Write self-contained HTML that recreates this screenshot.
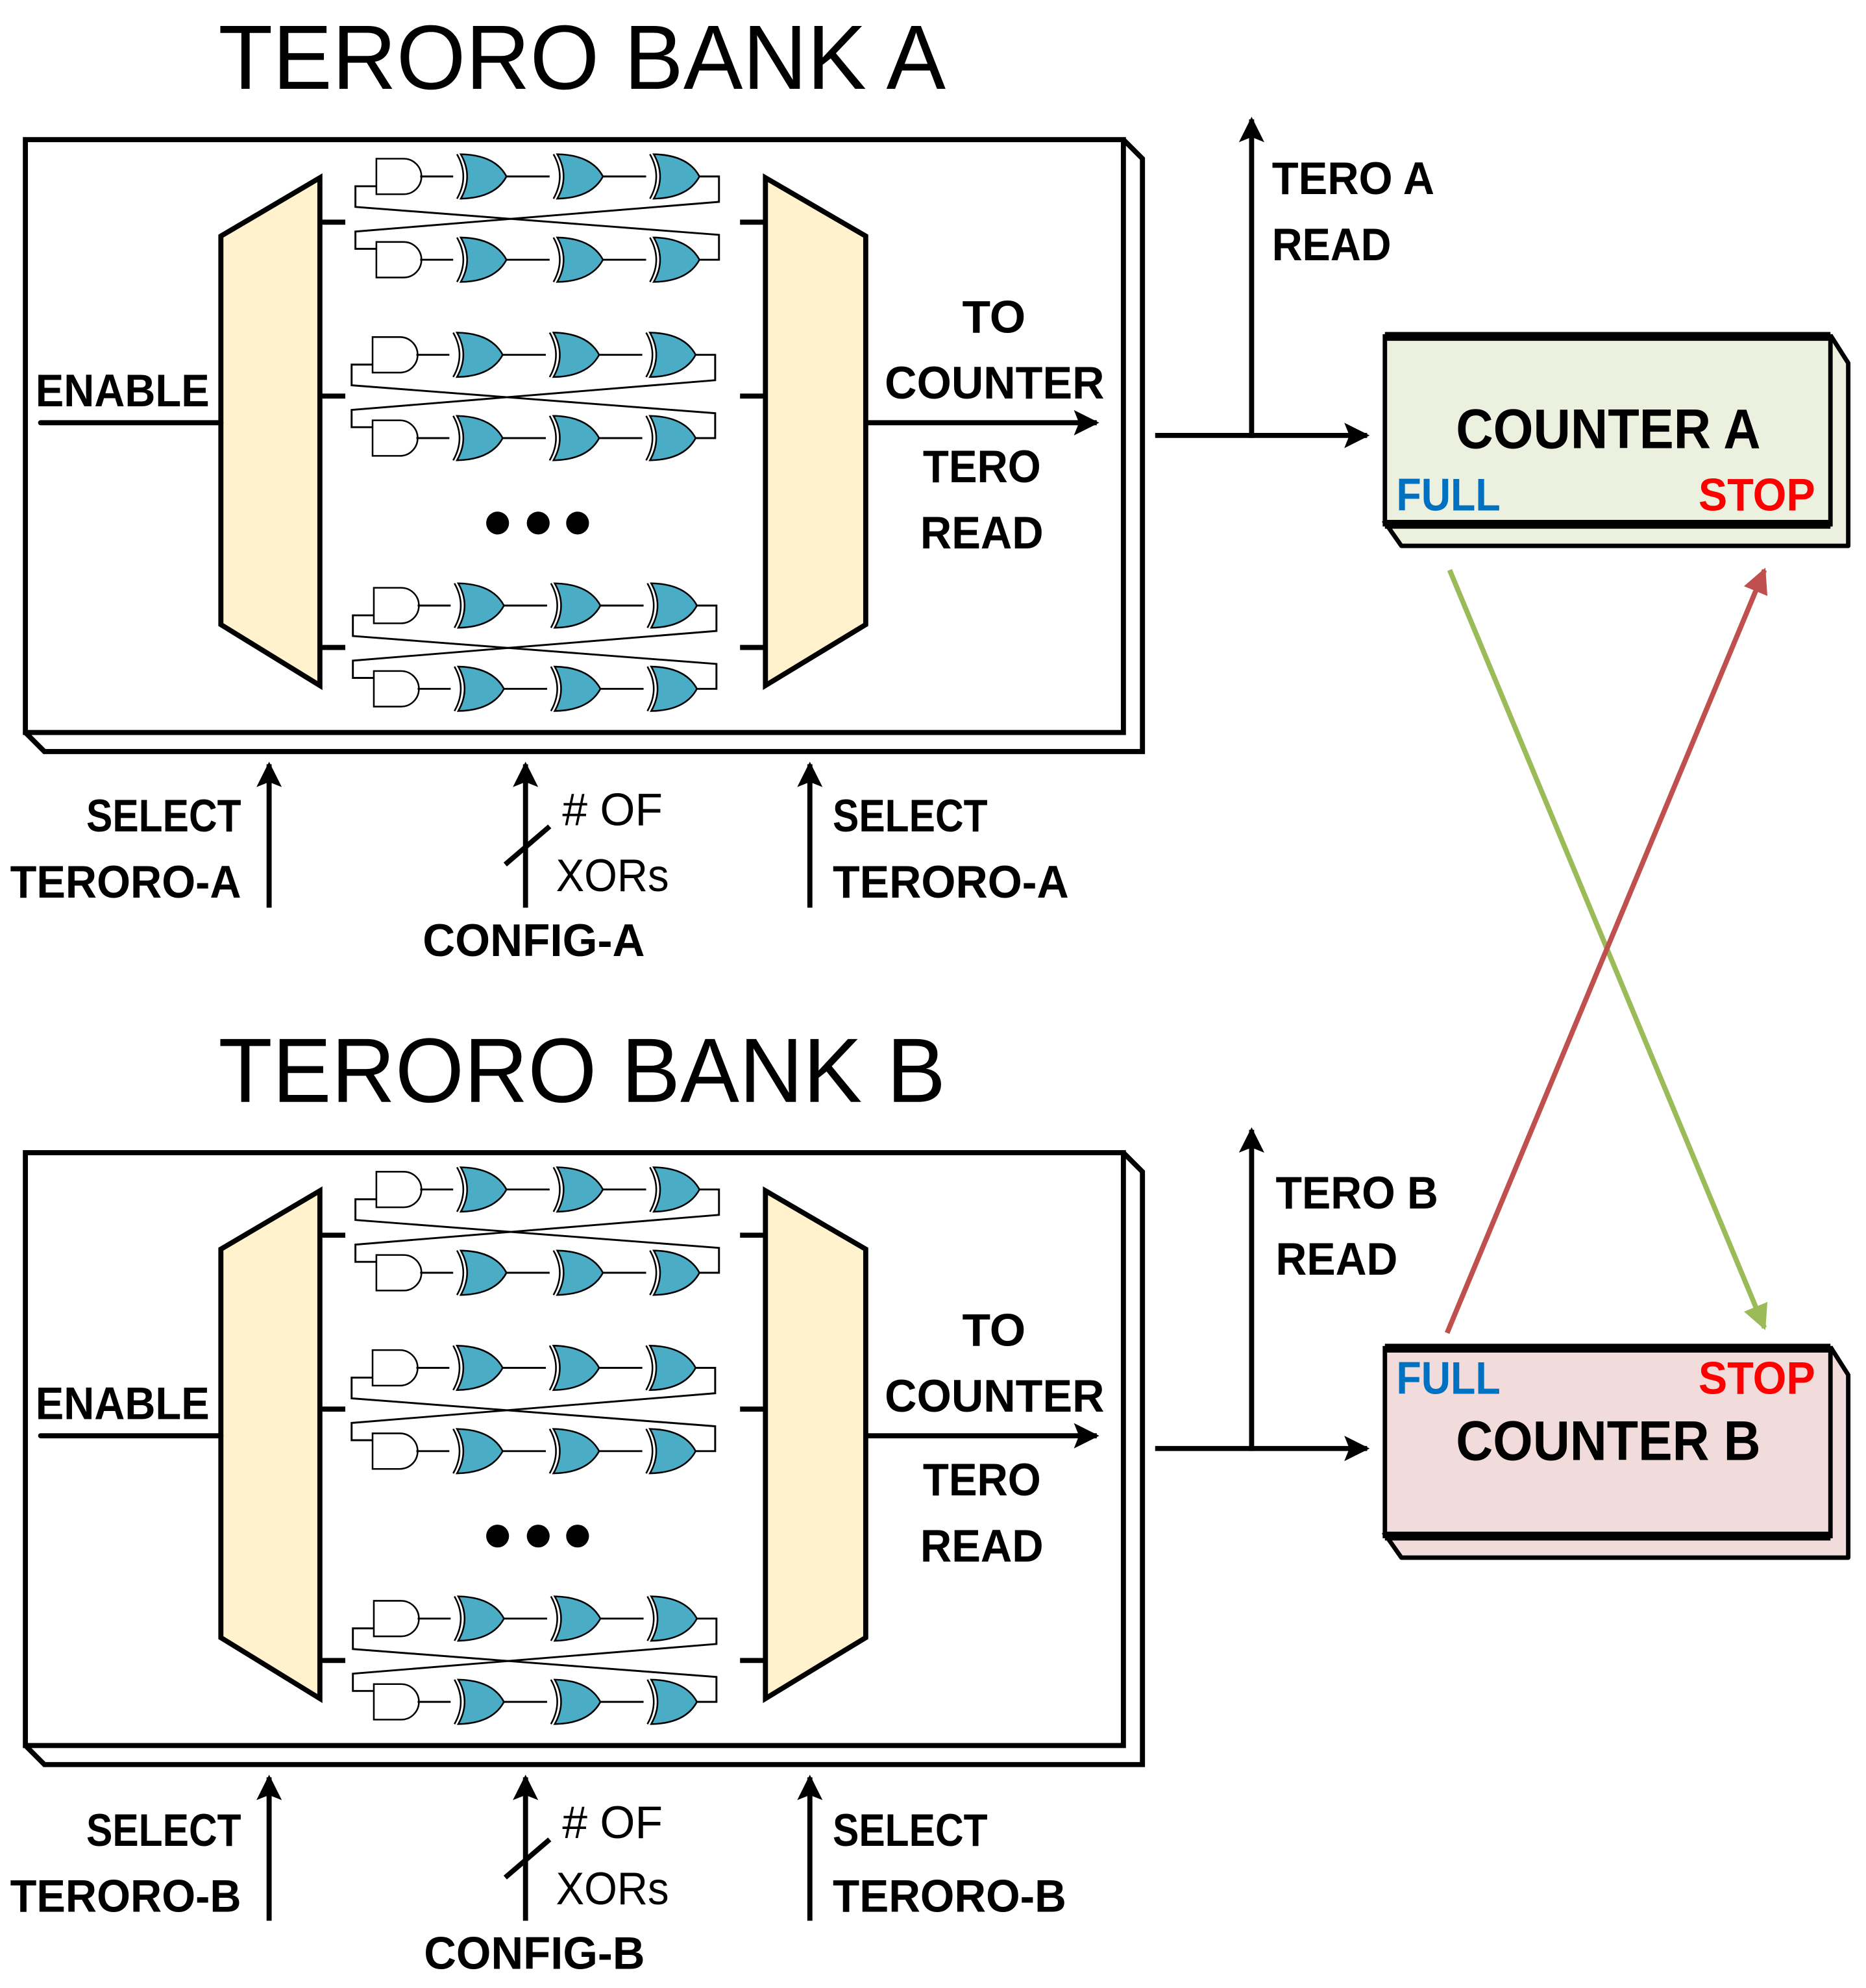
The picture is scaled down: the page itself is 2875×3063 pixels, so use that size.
<!DOCTYPE html>
<html><head><meta charset="utf-8"><style>
html,body{margin:0;padding:0;background:#fff}
svg{display:block}
text{font-family:"Liberation Sans",sans-serif}
.b{font-weight:bold}
</style></head><body>
<svg width="2875" height="3063" viewBox="0 0 1470 1566" preserveAspectRatio="none" xmlns="http://www.w3.org/2000/svg">
<defs>
<marker id="ah" viewBox="0 0 10 10" refX="9" refY="5" markerWidth="5" markerHeight="5" orient="auto" markerUnits="strokeWidth"><path d="M0,0 L10,5 L0,10 L2,5 Z" fill="#000"/></marker>
<marker id="ag" viewBox="0 0 10 10" refX="9" refY="5" markerWidth="5" markerHeight="5" orient="auto" markerUnits="strokeWidth"><path d="M0,0 L10,5 L0,10 Z" fill="#9bbb59"/></marker>
<marker id="ar" viewBox="0 0 10 10" refX="9" refY="5" markerWidth="5" markerHeight="5" orient="auto" markerUnits="strokeWidth"><path d="M0,0 L10,5 L0,10 Z" fill="#c0504d"/></marker>
<g id="row">
 <path d="M296.5,-14 H318 A14,14 0 0 1 318,14 H296.5 Z" fill="#fff" stroke="#000" stroke-width="1.3"/>
 <path d="M331,0 H357 M398,0 H433 M474,0 H509" stroke="#000" stroke-width="1.5" fill="none"/>
 <g id="xor">
  <path d="M360,-17.5 Q370,0 360,17.5" fill="none" stroke="#000" stroke-width="1.3"/>
  <path d="M363,-17.5 Q373,0 363,17.5 Q390,17 399,0 Q390,-17 363,-17.5 Z" fill="#4bacc6" stroke="#000" stroke-width="1.3"/>
 </g>
 <use href="#xor" x="76"/>
 <use href="#xor" x="152"/>
</g>
<g id="pair">
 <use href="#row"/>
 <use href="#row" y="65.6"/>
 <path d="M551,0 H566.4 V20 L280,43.4 V57 H296.5" fill="none" stroke="#000" stroke-width="1.5"/>
 <path d="M296.5,7.7 H280 V24 L566.4,46 V65.6 H551" fill="none" stroke="#000" stroke-width="1.5"/>
</g>
<g id="bank">
 <path d="M885,110 L900,125 V592 H35 L20,577" fill="#fff" stroke="#000" stroke-width="4" stroke-linejoin="miter"/>
 <rect x="20" y="110" width="865" height="467" fill="#fff" stroke="#000" stroke-width="4"/>
 <polygon points="174,186 252,140 252,540 174,492" fill="#fff2cc" stroke="#000" stroke-width="4"/>
 <polygon points="603,140 682,186 682,492 603,540" fill="#fff2cc" stroke="#000" stroke-width="4"/>
 <path d="M252,175 H272 M252,312 H272 M252,510 H272 M583,175 H603 M583,312 H603 M583,510 H603" stroke="#000" stroke-width="4"/>
 <use href="#pair" y="139"/>
 <use href="#pair" x="-3" y="279.5"/>
 <use href="#pair" x="-2" y="477"/>
 <circle cx="392" cy="412" r="9"/><circle cx="424" cy="412" r="9"/><circle cx="455" cy="412" r="9"/>
 <text x="28" y="320" class="b" font-size="36" textLength="137" lengthAdjust="spacingAndGlyphs">ENABLE</text>
 <line x1="32" y1="333" x2="174" y2="333" stroke="#000" stroke-width="4" stroke-linecap="round"/>
 <line x1="682" y1="333" x2="864" y2="333" stroke="#000" stroke-width="4" marker-end="url(#ah)"/>
 <text x="758" y="262" class="b" font-size="36" textLength="50" lengthAdjust="spacingAndGlyphs">TO</text>
 <text x="697" y="314" class="b" font-size="36" textLength="173" lengthAdjust="spacingAndGlyphs">COUNTER</text>
 <text x="727" y="380" class="b" font-size="36" textLength="93" lengthAdjust="spacingAndGlyphs">TERO</text>
 <text x="725" y="432" class="b" font-size="36" textLength="97" lengthAdjust="spacingAndGlyphs">READ</text>
 <line x1="212" y1="715" x2="212" y2="602" stroke="#000" stroke-width="4" marker-end="url(#ah)"/>
 <line x1="414" y1="715" x2="414" y2="602" stroke="#000" stroke-width="4" marker-end="url(#ah)"/>
 <line x1="398" y1="681" x2="433" y2="651" stroke="#000" stroke-width="4"/>
 <line x1="638" y1="715" x2="638" y2="602" stroke="#000" stroke-width="4" marker-end="url(#ah)"/>
 <text x="443" y="650" font-size="36" textLength="79" lengthAdjust="spacingAndGlyphs"># OF</text>
 <text x="438" y="702" font-size="36" textLength="89" lengthAdjust="spacingAndGlyphs">XORs</text>
 <line x1="910" y1="343" x2="1077" y2="343" stroke="#000" stroke-width="4" marker-end="url(#ah)"/>
</g>
</defs>

<text x="172" y="70" font-size="72" textLength="573" lengthAdjust="spacingAndGlyphs">TERORO BANK A</text>
<use href="#bank"/>
<text x="68" y="655" class="b" font-size="36" textLength="122" lengthAdjust="spacingAndGlyphs">SELECT</text>
<text x="8" y="707" class="b" font-size="36" textLength="182" lengthAdjust="spacingAndGlyphs">TERORO-A</text>
<text x="333" y="753" class="b" font-size="36" textLength="175" lengthAdjust="spacingAndGlyphs">CONFIG-A</text>
<text x="656" y="655" class="b" font-size="36" textLength="122" lengthAdjust="spacingAndGlyphs">SELECT</text>
<text x="656" y="707" class="b" font-size="36" textLength="186" lengthAdjust="spacingAndGlyphs">TERORO-A</text>
<line x1="986" y1="345" x2="986" y2="94" stroke="#000" stroke-width="4" marker-end="url(#ah)"/>
<text x="1002" y="153" class="b" font-size="36" textLength="128" lengthAdjust="spacingAndGlyphs">TERO A</text>
<text x="1002" y="205" class="b" font-size="36" textLength="94" lengthAdjust="spacingAndGlyphs">READ</text>

<text x="172" y="868" font-size="72" textLength="573" lengthAdjust="spacingAndGlyphs">TERORO BANK B</text>
<use href="#bank" y="798"/>
<text x="68" y="1454" class="b" font-size="36" textLength="122" lengthAdjust="spacingAndGlyphs">SELECT</text>
<text x="8" y="1506" class="b" font-size="36" textLength="182" lengthAdjust="spacingAndGlyphs">TERORO-B</text>
<text x="334" y="1551" class="b" font-size="36" textLength="174" lengthAdjust="spacingAndGlyphs">CONFIG-B</text>
<text x="656" y="1454" class="b" font-size="36" textLength="122" lengthAdjust="spacingAndGlyphs">SELECT</text>
<text x="656" y="1506" class="b" font-size="36" textLength="184" lengthAdjust="spacingAndGlyphs">TERORO-B</text>
<line x1="986" y1="1143" x2="986" y2="890" stroke="#000" stroke-width="4" marker-end="url(#ah)"/>
<text x="1005" y="952" class="b" font-size="36" textLength="128" lengthAdjust="spacingAndGlyphs">TERO B</text>
<text x="1005" y="1004" class="b" font-size="36" textLength="96" lengthAdjust="spacingAndGlyphs">READ</text>

<!-- Counter A -->
<path d="M1442,264 L1456,286 V430 H1104 L1090,410" fill="#ebf1de" stroke="#000" stroke-width="3.5" stroke-linejoin="round"/>
<rect x="1091" y="265" width="351" height="148" fill="#ebf1de" stroke="#000" stroke-width="3.5"/>
<line x1="1091" y1="265" x2="1442" y2="265" stroke="#000" stroke-width="7"/>
<line x1="1091" y1="413" x2="1442" y2="413" stroke="#000" stroke-width="7"/>
<text x="1267" y="353" class="b" font-size="44" text-anchor="middle" textLength="240" lengthAdjust="spacingAndGlyphs">COUNTER A</text>
<text x="1100" y="402" class="b" font-size="36" fill="#0070c0" textLength="82" lengthAdjust="spacingAndGlyphs">FULL</text>
<text x="1338" y="402" class="b" font-size="36" fill="#ff0000" textLength="92" lengthAdjust="spacingAndGlyphs">STOP</text>

<!-- Counter B -->
<path d="M1442,1061 L1456,1083 V1227 H1104 L1090,1207" fill="#f2dcdb" stroke="#000" stroke-width="3.5" stroke-linejoin="round"/>
<rect x="1091" y="1062" width="351" height="148" fill="#f2dcdb" stroke="#000" stroke-width="3.5"/>
<line x1="1091" y1="1062" x2="1442" y2="1062" stroke="#000" stroke-width="7"/>
<line x1="1091" y1="1210" x2="1442" y2="1210" stroke="#000" stroke-width="7"/>
<text x="1267" y="1150" class="b" font-size="44" text-anchor="middle" textLength="240" lengthAdjust="spacingAndGlyphs">COUNTER B</text>
<text x="1100" y="1098" class="b" font-size="36" fill="#0070c0" textLength="82" lengthAdjust="spacingAndGlyphs">FULL</text>
<text x="1338" y="1098" class="b" font-size="36" fill="#ff0000" textLength="92" lengthAdjust="spacingAndGlyphs">STOP</text>

<line x1="1142" y1="449" x2="1390" y2="1046" stroke="#9bbb59" stroke-width="4" marker-end="url(#ag)"/>
<line x1="1140" y1="1050" x2="1390" y2="449" stroke="#c0504d" stroke-width="4" marker-end="url(#ar)"/>
</svg>
</body></html>
